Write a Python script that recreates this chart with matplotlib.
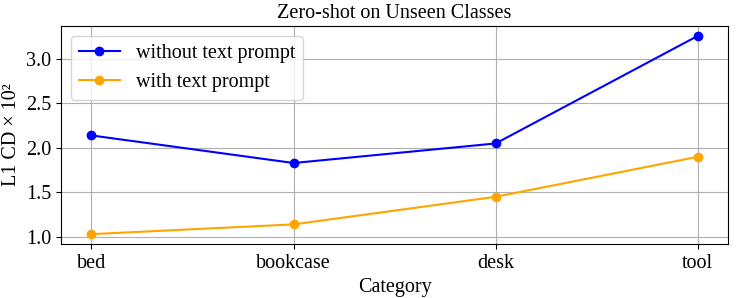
import matplotlib
matplotlib.use("Agg")
import matplotlib.pyplot as plt

plt.rcParams["font.family"] = ["Liberation Serif", "DejaVu Serif"]

# 資料
categories = ["bed", "bookcase", "desk", "tool"]
without_prompt = [2.14, 1.83, 2.05, 3.26]
with_prompt = [1.03, 1.14, 1.45, 1.90]

# 繪圖
fig = plt.figure(figsize=(7.37, 2.98), dpi=100)
plt.plot(categories, without_prompt, marker="o", color="blue", label="without text prompt")
plt.plot(categories, with_prompt, marker="o", color="orange", label="with text prompt")

# 圖表設定
fs = 14.5
plt.title("Zero-shot on Unseen Classes", fontsize=fs)
plt.xlabel("Category", fontsize=fs)
plt.ylabel("L1 CD × 10²", fontsize=fs)
plt.xticks(fontsize=fs)
plt.yticks([1.0, 1.5, 2.0, 2.5, 3.0], fontsize=fs)
plt.legend(fontsize=fs, loc="upper left")
plt.grid(True)
plt.subplots_adjust(left=0.083, right=0.988, top=0.913, bottom=0.181)

plt.savefig("out.png", dpi=100)
